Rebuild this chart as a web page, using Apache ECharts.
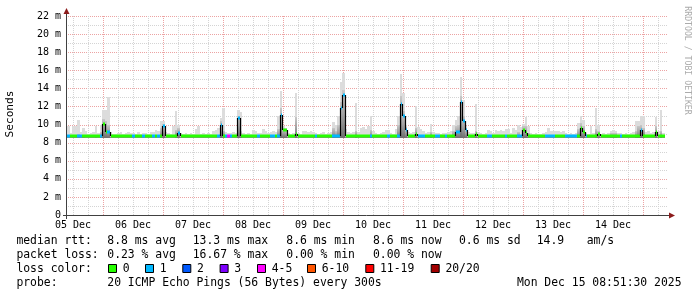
<!DOCTYPE html>
<html>
<head>
<meta charset="utf-8">
<script src="https://cdn.jsdelivr.net/npm/echarts@6.0.0/dist/echarts.min.js"></script>
<style>
html,body{margin:0;padding:0;background:#ffffff;}
#chart{width:697px;height:297px;}
</style>
</head>
<body>
<div id="chart"></div>
<script>
// ---------------- data (x = hours since graph start, Dec 5 ~09:36) ----------------
const spanHours = 240.4;
const dayLabels = ['05 Dec','06 Dec','07 Dec','08 Dec','09 Dec','10 Dec','11 Dec','12 Dec','13 Dec','14 Dec'];
const dayLabelHours = [2.4, 26.4, 50.4, 74.4, 98.4, 122.4, 146.4, 170.4, 194.4, 218.4];
const midnightHours = [14.4, 38.4, 62.4, 86.4, 110.4, 134.4, 158.4, 182.4, 206.4, 230.4];
const sixHourHours = [2.4, 8.4, 20.4, 26.4, 32.4, 44.4, 50.4, 56.4, 68.4, 74.4, 80.4, 92.4, 98.4, 104.4,
  116.4, 122.4, 128.4, 140.4, 146.4, 152.4, 164.4, 170.4, 176.4, 188.4, 194.4, 200.4, 212.4, 218.4, 224.4, 236.4];
const yMaxMs = 22;
const yStepMs = 2;
const yMinorMs = [1, 3, 5, 7, 9, 11, 13, 15, 17, 19, 21];
const yMajorMs = [2, 4, 6, 8, 10, 12, 14, 16, 18, 20, 22];
const smokeFloorMs = 8.55;

// median rtt per hour (ms)
const medianMs = [
  8.7,8.7,8.7,8.7,8.7,8.7,8.7,8.7,8.7,8.7,8.7,8.7,8.7,8.7,10.1,9.2,9.2,8.7,8.7,8.7,8.7,8.7,8.7,8.7,
  8.7,8.7,8.7,8.7,8.7,8.7,8.7,8.7,8.7,8.7,8.7,8.7,8.7,8.7,9.8,8.7,8.7,8.7,8.7,8.7,9.1,8.7,8.7,8.7,
  8.7,8.7,8.7,8.7,8.7,8.7,8.7,8.7,8.7,8.7,8.7,8.7,8.7,10.0,8.7,8.7,8.7,8.7,8.7,8.7,10.7,8.7,8.7,8.7,
  8.7,8.7,8.7,8.7,8.7,8.7,8.7,8.7,8.7,8.7,8.7,8.7,8.7,11.1,9.4,9.4,8.7,8.7,8.7,9.0,8.7,8.7,8.7,8.7,
  8.7,8.7,8.7,8.7,8.7,8.7,8.7,8.7,8.7,8.7,8.7,8.7,8.7,11.8,13.3,8.7,8.7,8.7,8.7,8.7,8.7,8.7,8.7,8.7,
  8.7,8.7,8.7,8.7,8.7,8.7,8.7,8.7,8.7,8.7,8.7,8.7,8.7,12.3,10.9,9.4,8.7,8.7,8.7,9.0,8.7,8.7,8.7,8.7,
  8.7,8.7,8.7,8.7,8.7,8.7,8.7,8.7,8.7,8.7,8.7,9.2,9.2,12.5,10.4,9.4,8.7,8.7,8.7,8.9,8.7,8.7,8.7,8.7,
  8.7,8.7,8.7,8.7,8.7,8.7,8.7,8.7,8.7,8.7,8.7,8.7,8.7,8.7,9.4,9.1,8.7,8.7,8.7,8.7,8.7,8.7,8.7,8.7,
  8.7,8.7,8.7,8.7,8.7,8.7,8.7,8.7,8.7,8.7,8.7,8.7,8.7,9.6,9.2,8.7,8.7,8.7,8.7,8.7,8.9,8.7,8.7,8.7,
  8.7,8.7,8.7,8.7,8.7,8.7,8.7,8.7,8.7,8.7,8.7,8.7,8.7,9.4,8.7,8.7,8.7,8.7,8.7,9.2,8.7,8.7,8.7
];
// highest ping per hour (ms) - top of the smoke
const maxMs = [
  9.8,9.1,9.8,9.8,10.5,9.2,9.6,9.3,9.0,9.1,9.2,9.8,9.1,10.0,11.6,11.6,13.1,9.2,9.0,9.0,9.1,9.2,9.0,9.1,
  9.2,9.1,9.1,9.0,9.2,9.0,9.1,9.1,9.0,9.2,9.2,9.4,9.3,10.4,10.4,9.2,9.1,9.0,9.8,11.5,10.0,9.1,9.0,9.1,
  9.0,9.1,9.0,9.5,9.8,9.0,9.1,9.0,9.1,9.0,9.3,9.4,9.6,10.7,11.8,9.2,9.1,9.1,9.2,9.1,11.6,11.4,9.1,9.0,
  9.1,9.0,9.4,9.3,9.1,9.1,9.5,9.3,9.1,9.2,9.3,9.2,11.0,13.7,9.8,9.6,9.1,9.0,9.1,13.5,9.1,9.0,9.3,9.3,
  9.2,9.3,9.2,9.1,9.0,9.1,9.2,9.0,9.1,9.2,10.3,9.9,11.0,14.7,15.7,9.5,9.2,9.1,9.2,12.4,9.2,9.6,9.7,9.5,
  9.8,10.9,9.3,9.1,9.0,9.1,9.2,9.4,9.4,9.1,9.0,9.5,11.0,15.6,13.5,10.0,9.2,9.1,9.2,12.0,9.7,9.5,9.3,9.1,
  9.2,10.1,9.2,9.1,9.1,9.0,9.1,9.1,9.2,9.3,9.9,10.5,11.0,15.3,12.7,9.8,9.2,9.1,9.1,12.3,9.2,9.1,9.0,9.1,
  9.4,9.3,9.1,9.4,9.3,9.4,9.3,9.5,9.5,9.1,9.6,9.4,9.9,9.7,10.1,10.8,9.8,9.1,9.0,9.1,9.0,9.0,9.1,9.2,
  9.6,9.3,9.3,9.3,9.3,9.2,9.3,9.1,9.0,9.1,9.0,9.1,10.2,11.0,10.5,9.1,9.0,9.8,9.1,11.8,10.0,9.0,9.1,9.0,
  9.1,9.3,9.4,9.3,9.1,9.1,9.0,9.1,9.0,9.1,9.2,10.4,10.4,11.0,10.9,9.2,9.3,9.1,9.2,10.8,9.3,11.6,9.1
];
// upper edge of the dense (dark) part of the smoke (ms)
const midMs = [
  8.7,8.7,8.8,8.8,8.9,8.7,8.8,8.7,8.7,8.7,8.7,8.8,8.7,9.2,10.6,10.4,10.0,8.7,8.7,8.7,8.7,8.7,8.7,8.7,
  8.7,8.7,8.7,8.7,8.7,8.7,8.7,8.7,8.7,8.7,8.7,8.7,8.7,9.6,10.1,8.7,8.7,8.7,8.7,9.4,9.6,8.7,8.7,8.7,
  8.7,8.7,8.7,8.7,8.7,8.7,8.7,8.7,8.7,8.7,8.7,8.7,8.7,10.4,9.3,8.7,8.7,8.7,8.7,8.7,11.0,9.3,8.7,8.7,
  8.7,8.7,8.7,8.7,8.7,8.7,8.7,8.7,8.7,8.7,8.7,8.7,9.5,11.8,9.6,9.5,8.7,8.7,8.7,10.8,8.7,8.7,8.7,8.7,
  8.7,8.7,8.7,8.7,8.7,8.7,8.7,8.7,8.7,8.7,9.6,9.3,10.0,12.5,13.8,8.7,8.7,8.7,8.7,9.3,8.7,8.7,8.7,8.7,
  8.7,9.4,8.7,8.7,8.7,8.7,8.7,8.7,8.7,8.7,8.7,8.7,10.0,13.2,11.5,9.7,8.7,8.7,8.7,9.6,8.7,8.7,8.7,8.7,
  8.7,9.2,8.7,8.7,8.7,8.7,8.7,8.7,8.7,8.7,9.3,9.8,10.0,13.2,11.0,9.6,8.7,8.7,8.7,9.3,8.7,8.7,8.7,8.7,
  8.7,8.7,8.7,8.7,8.7,8.7,8.7,8.7,8.7,8.7,8.7,8.7,9.2,8.7,9.8,9.8,9.1,8.7,8.7,8.7,8.7,8.7,8.7,8.7,
  8.7,8.7,8.7,8.7,8.7,8.7,8.7,8.7,8.7,8.7,8.7,8.7,9.5,10.2,9.8,8.7,8.7,8.7,8.7,9.5,9.3,8.7,8.7,8.7,
  8.7,9.1,9.1,9.1,8.7,8.7,8.7,8.7,8.7,8.7,8.7,9.3,9.8,10.0,9.6,8.7,8.7,8.7,8.7,9.8,8.7,9.3,8.7
];
// lost pings (of 20) per hour
const lossCount = [
  1,0,0,0,1,1,0,0,0,0,0,0,0,1,0,0,1,0,0,0,0,0,0,0,
  0,0,1,0,0,0,1,0,0,0,1,0,1,0,1,0,0,0,0,0,1,0,0,0,
  0,0,0,0,0,0,0,0,0,0,0,0,1,1,0,1,4,1,0,0,1,0,0,0,
  0,0,0,0,1,0,0,0,0,1,1,0,1,1,0,0,0,0,0,0,0,0,0,0,
  0,0,0,1,0,0,0,0,0,0,1,1,1,1,1,0,0,0,0,0,0,0,0,0,
  0,1,0,0,0,0,0,0,1,0,0,0,1,1,1,1,0,0,0,0,1,1,1,0,
  0,0,0,1,1,0,0,1,0,0,0,1,1,1,1,1,0,0,0,0,0,0,0,0,
  1,1,0,0,0,0,0,1,0,0,0,0,1,1,0,0,0,0,0,0,0,0,0,1,
  1,1,1,0,0,0,0,1,1,1,1,1,0,0,0,1,0,0,0,0,0,0,0,0,
  0,0,0,0,0,1,0,0,0,0,0,0,0,1,0,0,0,0,0,0,0,0,0
];
const lossLabels = ['0','1','2','3','4-5','6-10','11-19','20/20'];
const lossUpper  = [0, 1, 2, 3, 5, 10, 19, 20];
const lossColors = ['#26ff00','#00b8ff','#0059ff','#7e00ff','#ff00ff','#ff5500','#ff0000','#a10000'];

const statsRow1 = ['median rtt:', '8.8 ms avg', '13.3 ms max', '8.6 ms min', '8.6 ms now', '0.6 ms sd', '14.9', 'am/s'];
const statsRow2 = ['packet loss:', '0.23 % avg', '16.67 % max', '0.00 % min', '0.00 % now'];
const lossRowTitle = 'loss color:';
const probeRow = ['probe:', '20 ICMP Echo Pings (56 Bytes) every 300s'];
const stampText = 'Mon Dec 15 08:51:30 2025';
const yAxisName = 'Seconds';
const sideText = 'RRDTOOL / TOBI OETIKER';

// ---------------- layout / style ----------------
const MONO = '"DejaVu Sans Mono", monospace';
const LEG_FONT = '11.4px ' + MONO;
const majorGrid = '#eca3a3';
const minorGrid = '#d4d4d4';
const axisColor = '#404040';
const arrowColor = '#8c1c1c';

function lossColor(n) {
  for (let i = 0; i < lossUpper.length; i++) if (n <= lossUpper[i]) return lossColors[i];
  return lossColors[lossColors.length - 1];
}

// grid lines drawn as crisp 1px dotted lines through the axis scales
const vGridData = midnightHours.map(h => [h, 1]).concat(sixHourHours.map(h => [h, 0]));
const hGridData = yMajorMs.map(v => [v, 1]).concat(yMinorMs.map(v => [v, 0]));
const smokeData = medianMs.map((m, i) => [i, smokeFloorMs, maxMs[i], midMs[i]]);
const medianData = medianMs.map((m, i) => [i, m, i > 0 ? medianMs[i - 1] : m, lossCount[i]]);

const chart = echarts.init(document.getElementById('chart'), null, {renderer: 'canvas', width: 697, height: 297});

const graphics = [];
function txt(s, x, y, extra) {
  graphics.push(Object.assign({type: 'text', z: 10, style: {text: s, x: x, y: y, font: LEG_FONT, fill: '#000', verticalAlign: 'middle', textVerticalAlign: 'middle'}}, extra || {}));
}
// legend rows
const row1X = [16.4, 107.3, 192.7, 286.3, 373, 459, 536.7, 586.7];
statsRow1.forEach((s, i) => txt(s, row1X[i], 241));
const row2X = [16.4, 107.3, 192.7, 286.3, 373];
statsRow2.forEach((s, i) => txt(s, row2X[i], 255));
txt(lossRowTitle, 16.4, 269);
const boxX = [108, 145, 182.3, 219.6, 257, 307, 365.3, 430.7];
lossLabels.forEach((s, i) => {
  graphics.push({type: 'rect', z: 10, shape: {x: boxX[i] + 0.5, y: 264.5, width: 8, height: 8},
    style: {fill: lossColors[i], stroke: '#000', lineWidth: 1}});
  txt(s, boxX[i] + 14.7, 269);
});
txt(probeRow[0], 16.4, 283);
txt(probeRow[1], 107.3, 283);
graphics.push({type: 'text', z: 10, style: {text: stampText, x: 681.5, y: 283, font: LEG_FONT, fill: '#000', align: 'right', textAlign: 'right', verticalAlign: 'middle', textVerticalAlign: 'middle'}});
// rotated texts
graphics.push({type: 'text', z: 10, x: 10, y: 114, rotation: Math.PI / 2,
  style: {text: yAxisName, x: 0, y: 0, font: '11.2px ' + MONO, fill: '#000', align: 'center', textAlign: 'center', verticalAlign: 'middle', textVerticalAlign: 'middle'}});
graphics.push({type: 'text', z: 10, x: 687.5, y: 60.5, rotation: -Math.PI / 2,
  style: {text: sideText, x: 0, y: 0, font: '8.2px ' + MONO, fill: '#ababab', align: 'center', textAlign: 'center', verticalAlign: 'middle', textVerticalAlign: 'middle'}});
// axes lines and arrows
graphics.push({type: 'line', z: 10, shape: {x1: 66.5, y1: 219, x2: 66.5, y2: 13}, style: {stroke: axisColor, lineWidth: 1}});
graphics.push({type: 'line', z: 10, shape: {x1: 63, y1: 215.5, x2: 670, y2: 215.5}, style: {stroke: axisColor, lineWidth: 1}});
graphics.push({type: 'polygon', z: 11, shape: {points: [[63.5, 14], [69.5, 14], [66.5, 8]]}, style: {fill: arrowColor}});
graphics.push({type: 'polygon', z: 11, shape: {points: [[669, 212.5], [669, 218.5], [675, 215.5]]}, style: {fill: arrowColor}});

chart.setOption({
  animation: false,
  backgroundColor: '#ffffff',
  grid: {left: 67, top: 16, width: 601, height: 199, containLabel: false, outerBoundsMode: 'none'},
  xAxis: [{
    type: 'value', min: 0, max: spanHours,
    axisLine: {show: false}, axisTick: {show: false}, splitLine: {show: false},
    axisLabel: {
      customValues: dayLabelHours,
      formatter: v => { const i = dayLabelHours.indexOf(v); return i >= 0 ? dayLabels[i] : ''; },
      fontFamily: MONO, fontSize: 10, color: '#000', margin: 5
    }
  }],
  yAxis: [{
    type: 'value', min: 0, max: yMaxMs, interval: yStepMs,
    axisLine: {show: false}, axisTick: {show: false},
    axisLabel: {formatter: v => v === 0 ? '0' : v + ' m', fontFamily: MONO, fontSize: 10, color: '#000', margin: 6},
    splitLine: {show: false},
    minorSplitLine: {show: false}
  }],
  graphic: graphics,
  series: [
    {
      type: 'custom', name: 'hgrid', z: 1, silent: true, clip: false,
      data: hGridData, encode: {x: -1, y: 0},
      renderItem: (params, api) => {
        const v = api.value(0);
        const l = api.coord([0, v]);
        const r = api.coord([spanHours, v]);
        const y = Math.round(l[1]) + 0.5;
        return {type: 'line', shape: {x1: Math.round(l[0]) + 1, y1: y, x2: Math.round(r[0]), y2: y},
          style: {stroke: api.value(1) ? majorGrid : minorGrid, lineWidth: 1, lineDash: [1, 1]}};
      }
    },
    {
      type: 'custom', name: 'vgrid', z: 1, silent: true, clip: false,
      data: vGridData, encode: {x: 0, y: -1},
      renderItem: (params, api) => {
        const h = api.value(0);
        const t = api.coord([h, yMaxMs]);
        const b = api.coord([h, 0]);
        const x = Math.round(t[0]) + 0.5;
        return {type: 'line', shape: {x1: x, y1: Math.round(t[1]), x2: x, y2: Math.round(b[1])},
          style: {stroke: api.value(1) ? majorGrid : minorGrid, lineWidth: 1, lineDash: [1, 1]}};
      }
    },
    {
      type: 'custom', name: 'smoke', z: 2, silent: true, clip: true,
      data: smokeData, encode: {x: 0, y: [1, 2, 3]},
      renderItem: (params, api) => {
        const h = api.value(0);
        const a = api.coord([h, api.value(1)]);
        const b = api.coord([h + 1, api.value(2)]);
        const c = api.coord([h + 1, api.value(3)]);
        const x0 = Math.round(a[0]), x1 = Math.round(b[0]);
        const yb = Math.round(a[1]), yt = Math.round(b[1]), ym = Math.round(c[1]);
        const children = [
          {type: 'rect', shape: {x: x0, y: yt, width: x1 - x0, height: yb - yt}, style: {fill: '#dcdcdc'}}
        ];
        if (yb - ym > 0) {
          children.push({type: 'rect', shape: {x: x0, y: ym, width: x1 - x0, height: yb - ym},
            style: {fill: new echarts.graphic.LinearGradient(0, 0, 0, 1, [
              {offset: 0, color: '#c8c8c8'}, {offset: 0.5, color: '#a2a2a2'}, {offset: 1, color: '#6e6e6e'}])}});
        }
        return {type: 'group', children: children};
      }
    },
    {
      type: 'custom', name: 'median', z: 3, silent: true, clip: true,
      data: medianData, encode: {x: 0, y: 1},
      renderItem: (params, api) => {
        const h = api.value(0), m = api.value(1), prev = api.value(2), loss = api.value(3);
        const a = api.coord([h, m]);
        const b = api.coord([h + 1, m]);
        const p = api.coord([h, prev]);
        const x0 = Math.round(a[0]), x1 = Math.round(b[0]);
        const y = Math.round(a[1]);
        const children = [];
        const step = prev !== m;
        if (step) {
          children.push({type: 'line', shape: {x1: x0 + 0.5, y1: Math.round(p[1]), x2: x0 + 0.5, y2: y},
            style: {stroke: '#000', lineWidth: 1.2}});
        }
        children.push({type: 'rect', shape: {x: x0 + (step ? 1 : 0), y: y - 1.5, width: x1 - x0 - (step ? 1 : 0), height: 3},
          style: {fill: lossColor(loss)}});
        return {type: 'group', children: children};
      }
    }
  ]
});
</script>
</body>
</html>
